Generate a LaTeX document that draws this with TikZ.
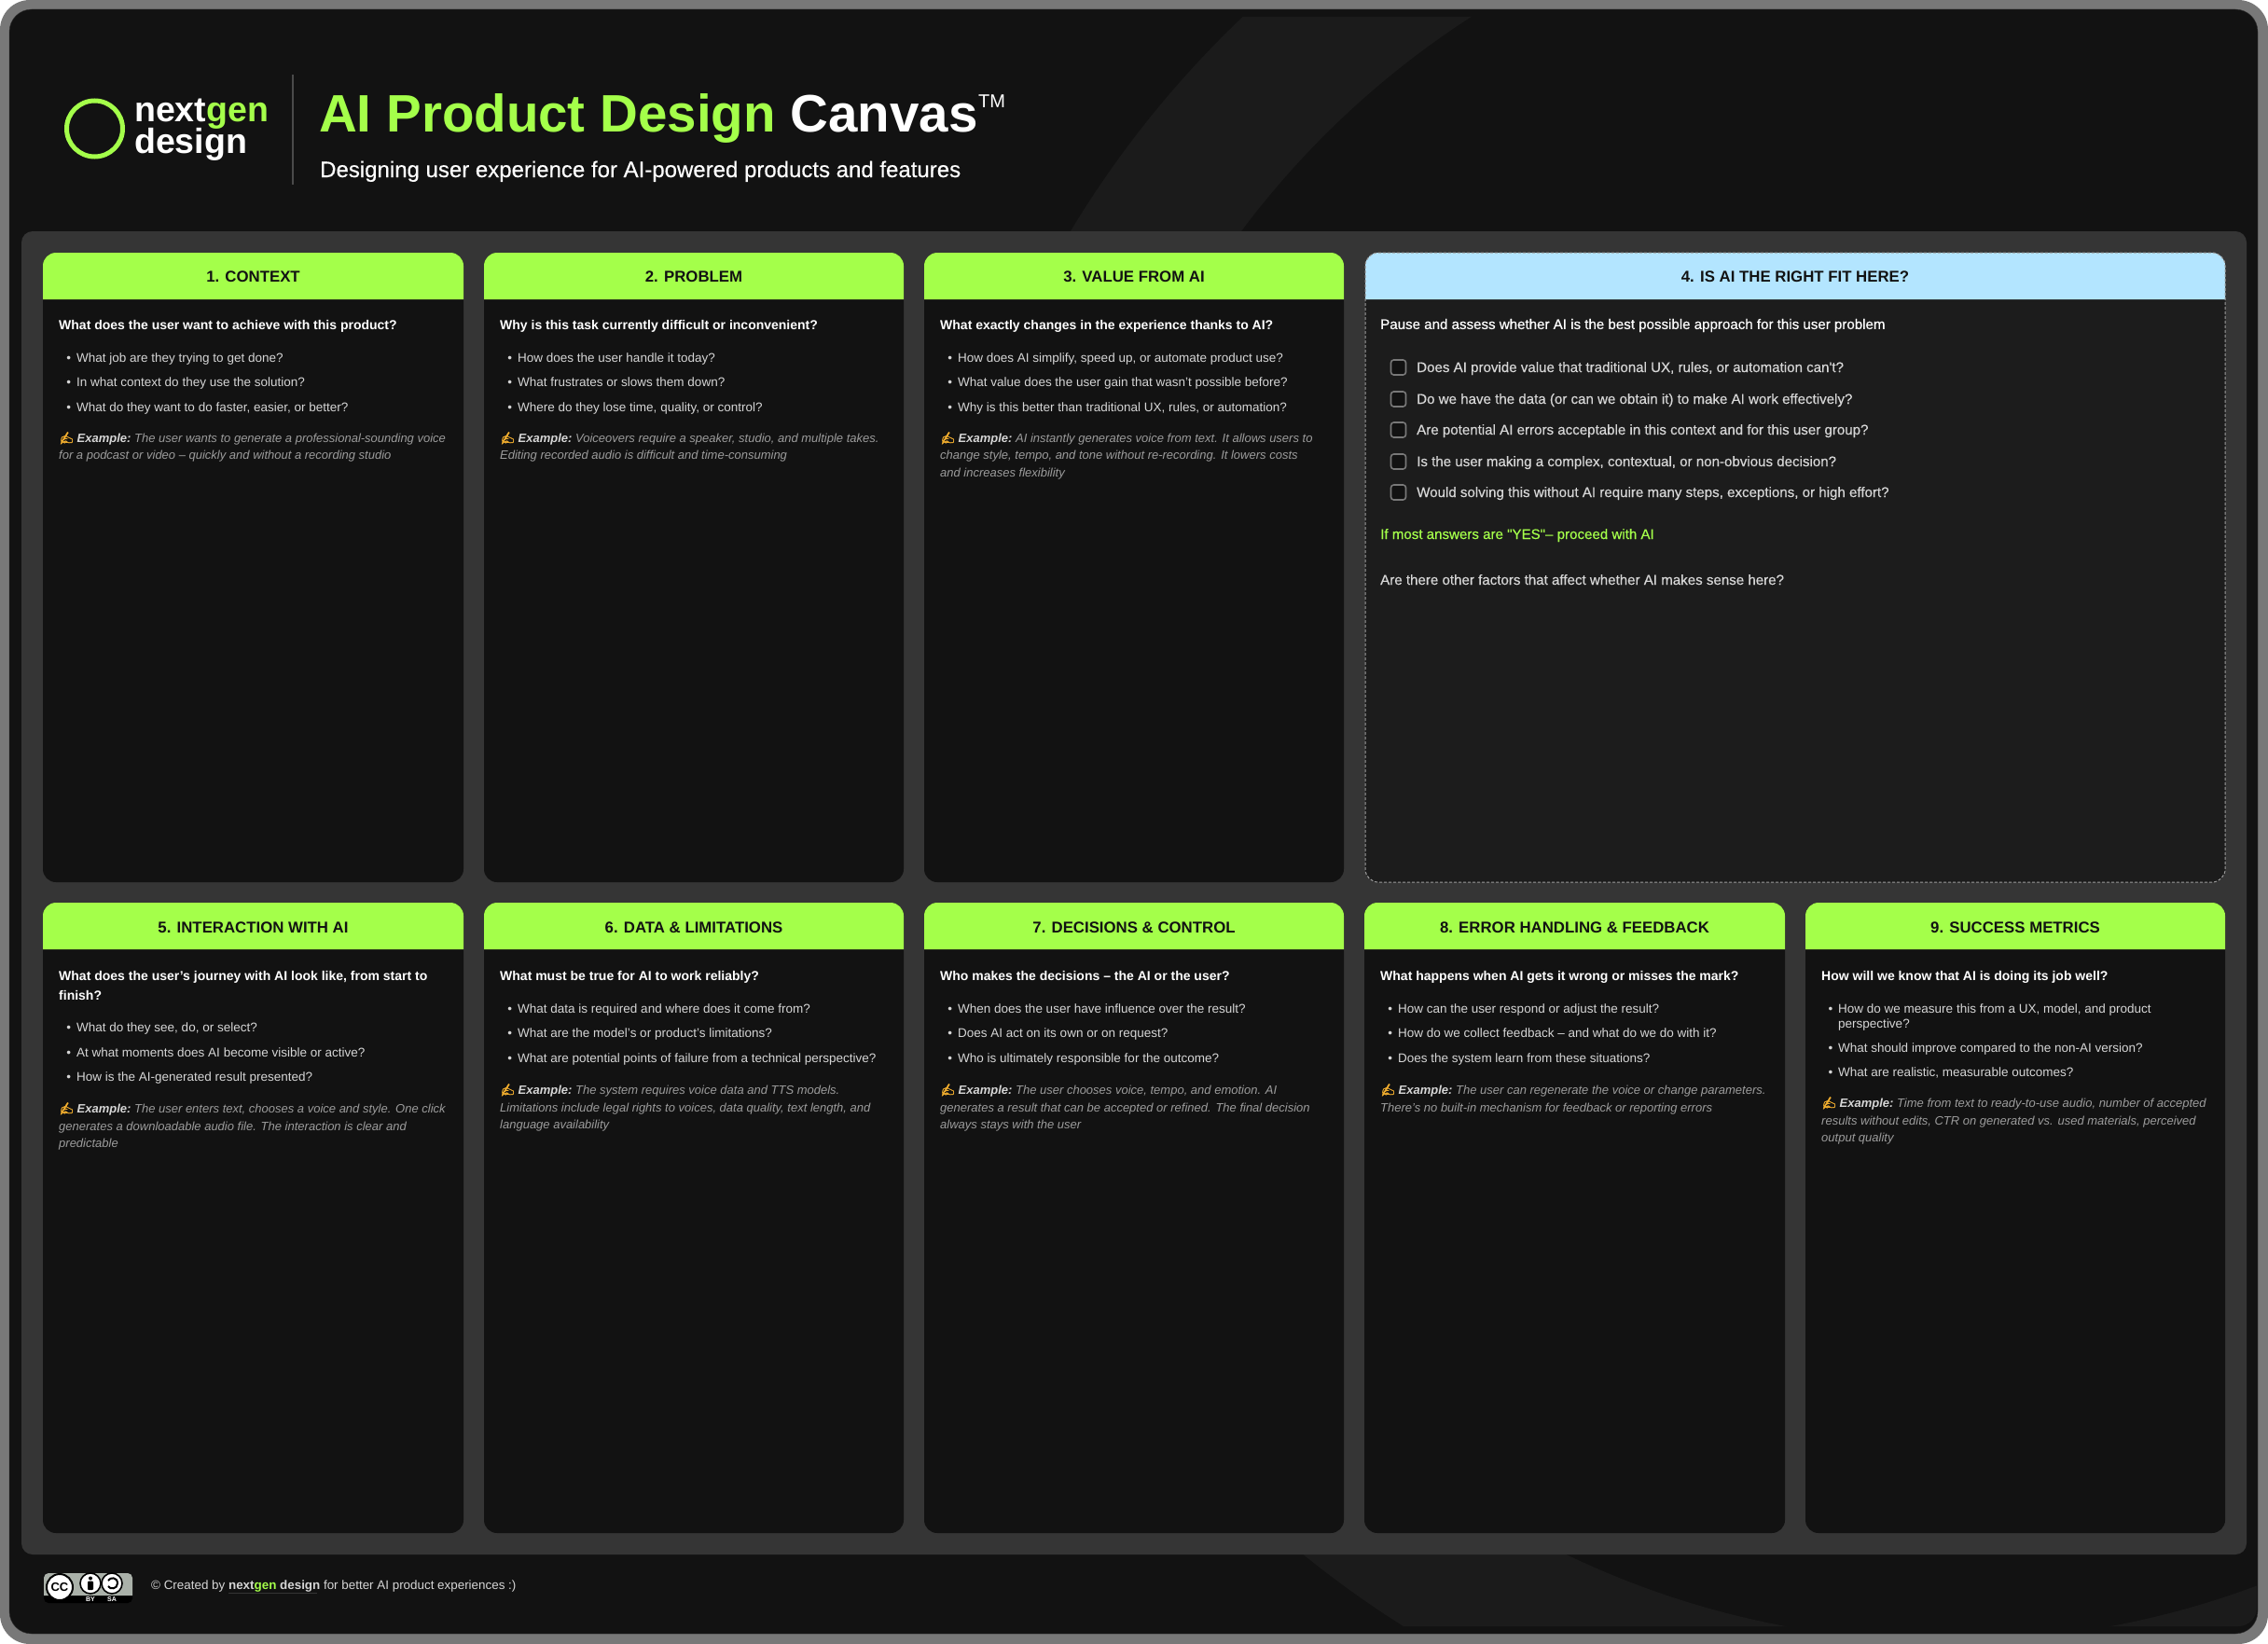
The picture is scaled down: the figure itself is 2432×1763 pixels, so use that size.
\documentclass[tikz,border=0pt]{standalone}
\usepackage{fontspec}
\setmainfont{Liberation Sans}
\newfontfamily\emojifont[FakeBold=1.5]{Noto Emoji}
\newfontfamily\medfont[FakeBold=0.35]{Liberation Sans}
\definecolor{framegray}{HTML}{787878}
\definecolor{ink}{HTML}{121212}
\definecolor{ringdark}{HTML}{1B1B1B}
\definecolor{panelgray}{HTML}{353535}
\definecolor{fitbody}{HTML}{1C1C1C}
\definecolor{limegreen}{HTML}{A4FF4A}
\definecolor{skyblue}{HTML}{B3E5FF}
\definecolor{bulletgray}{HTML}{D6D6D6}
\definecolor{examplegray}{HTML}{9C9C9C}
\definecolor{handorange}{HTML}{F2AE2E}
\definecolor{badgegray}{HTML}{AAB1A9}
\definecolor{dividergray}{HTML}{4A4A4A}
\tikzset{
	head/.style={anchor=center, inner sep=0pt, yshift=-1.5pt, text=ink, font=\fontsize{16.8}{20}\selectfont\bfseries},
	question/.style={anchor=north west, inner sep=0pt, yshift=-2pt, align=left, text=white, font=\fontsize{14}{21}\selectfont\bfseries},
	bul/.style={anchor=north west, inner sep=0pt, yshift=-2pt, align=left, text=bulletgray, font=\fontsize{13.5}{15.4}\selectfont},
	example/.style={anchor=north west, inner sep=0pt, yshift=-1pt, align=left, text=examplegray, font=\fontsize{13}{18.7}\selectfont\itshape},
	check/.style={anchor=base west, inner sep=0pt, text=bulletgray, font=\medfont\fontsize{15.1}{18}\selectfont},
	tickbox/.style={draw=framegray, line width=1.6pt, fill=ink, rounded corners=3pt},
	iconring/.style={draw=black, line width=1.6pt, fill=white},
	badgetag/.style={inner sep=0pt, text=white, font=\fontsize{7}{8}\selectfont\bfseries}
}
\begin{document}
\begin{tikzpicture}[x=1pt,y=-1pt]
	\useasboundingbox (0,0) rectangle (2432,1763);
	\def\bdot{\llap{\textbullet\hspace{6pt}}\strut}
	\def\exmark{{\upshape\color{handorange}\emojifont ✍}\hspace{3pt}\textcolor{bulletgray}{\textbf{Example:}}}
	\def\rowa{271}
	\def\rowb{968}
	% frame and background ring
	\fill[white] (0,0) rectangle (2432,1763);
	\fill[framegray, rounded corners=32pt] (0,0) rectangle (2432,1763);
	\fill[ink, draw=panelgray, rounded corners=24pt] (10,10) rectangle (2421,1752);
	\begin{scope}
		\clip[rounded corners=20pt] (18,18) rectangle (2420,1744);
		\fill[ringdark, even odd rule] (2089,814) circle (1098pt) (2089,814) circle (946pt);
	\end{scope}
	% title
	\draw[limegreen, line width=5pt] (101.5,138) circle (30pt);
	\node[anchor=base west, inner sep=0pt, text=white, font=\fontsize{37.5}{38}\selectfont\bfseries] (lognext) at (144,131) {next\textcolor{limegreen}{gen}};
	\node[anchor=base west, inner sep=0pt, text=white, font=\fontsize{37.5}{38}\selectfont\bfseries] (logdesign) at (144,165) {design};
	\coordinate (divtop) at (314,80);
	\coordinate (divbot) at (314,198);
	\draw[draw=dividergray, line width=1.5pt] (divtop) -- (divbot);
	\node[anchor=base west, inner sep=0pt, text=limegreen, font=\fontsize{56.5}{60}\selectfont\bfseries] (title) at (342,142) {AI Product Design \textcolor{white}{Canvas}};
	\node[anchor=base west, inner sep=0pt, text=white, font=\fontsize{20}{22}\selectfont] (tm) at (1049,116) {TM};
	\node[anchor=base west, inner sep=0pt, text=white, font=\medfont\fontsize{24}{26}\selectfont] (subtitle) at (343,190) {Designing user experience for AI-powered products and features};
	% panel and cards
	\fill[panelgray, rounded corners=12pt] (23,248) rectangle (2409,1667);
	\foreach \xa/\xb in {46/497,519/969,991/1441}{
		\fill[ink, rounded corners=14pt] (\xa,\rowa) rectangle (\xb,946);
		\fill[limegreen] (\xa,321) {[rounded corners=14pt] -- (\xa,\rowa) -- (\xb,\rowa)} -- (\xb,321) -- cycle;
	}
	\foreach \xa/\xb in {46/497,519/969,991/1441,1463/1914,1936/2386}{
		\fill[ink, rounded corners=14pt] (\xa,\rowb) rectangle (\xb,1644);
		\fill[limegreen] (\xa,1018) {[rounded corners=14pt] -- (\xa,\rowb) -- (\xb,\rowb)} -- (\xb,1018) -- cycle;
	}
	\fill[fitbody, rounded corners=14pt] (1464,\rowa) rectangle (2386,946);
	\fill[skyblue] (1464,321) {[rounded corners=14pt] -- (1464,\rowa) -- (2386,\rowa)} -- (2386,321) -- cycle;
	\draw[examplegray, dash pattern=on 3pt off 2pt, line width=1pt, rounded corners=14pt] (1464,\rowa) rectangle (2386,946);
	% card 1
	\node[head] (h1) at (271.5,295) {1. CONTEXT};
	\node[question] (q1) at (63,337) {\strut What does the user want to achieve with this product?};
	\node[bul] (b11) at (82,376) {\bdot What job are they trying to get done?};
	\node[bul] (b12) at (82,402) {\bdot In what context do they use the solution?};
	\node[bul] (b13) at (82,429) {\bdot What do they want to do faster, easier, or better?};
	\node[example] (e1) at (63,460) {\strut\exmark\ The user wants to generate a professional-sounding voice\\\strut for a podcast or video – quickly and without a recording studio};
	% card 2
	\node[head] (h2) at (744,295) {2. PROBLEM};
	\node[question] (q2) at (536,337) {\strut Why is this task currently difficult or inconvenient?};
	\node[bul] (b21) at (555,376) {\bdot How does the user handle it today?};
	\node[bul] (b22) at (555,402) {\bdot What frustrates or slows them down?};
	\node[bul] (b23) at (555,429) {\bdot Where do they lose time, quality, or control?};
	\node[example] (e2) at (536,460) {\strut\exmark\ Voiceovers require a speaker, studio, and multiple takes.\\\strut Editing recorded audio is difficult and time-consuming};
	% card 3
	\node[head] (h3) at (1216,295) {3. VALUE FROM AI};
	\node[question] (q3) at (1008,337) {\strut What exactly changes in the experience thanks to AI?};
	\node[bul] (b31) at (1027,376) {\bdot How does AI simplify, speed up, or automate product use?};
	\node[bul] (b32) at (1027,402) {\bdot What value does the user gain that wasn't possible before?};
	\node[bul] (b33) at (1027,429) {\bdot Why is this better than traditional UX, rules, or automation?};
	\node[example] (e3) at (1008,460) {\strut\exmark\ AI instantly generates voice from text. It allows users to\\\strut change style, tempo, and tone without re-recording. It lowers costs\\\strut and increases flexibility};
	% card 4
	\node[head] (h4) at (1925,295) {4. IS AI THE RIGHT FIT HERE?};
	\node[question, font=\medfont\fontsize{15.1}{21}\selectfont] (q4) at (1480,336) {\strut Pause and assess whether AI is the best possible approach for this user problem};
	\foreach \yc/\boxname in {394/t1,428/t2,461/t3,495/t4,528/t5}{
		\node[tickbox, inner sep=0pt, minimum size=16pt] (\boxname) at (1499.5,\yc) {};
	}
	\node[check] (c1) at (1519,399) {Does AI provide value that traditional UX, rules, or automation can't?};
	\node[check] (c2) at (1519,433) {Do we have the data (or can we obtain it) to make AI work effectively?};
	\node[check] (c3) at (1519,466) {Are potential AI errors acceptable in this context and for this user group?};
	\node[check] (c4) at (1519,500) {Is the user making a complex, contextual, or non-obvious decision?};
	\node[check] (c5) at (1519,533) {Would solving this without AI require many steps, exceptions, or high effort?};
	\node[check, text=limegreen] (c6) at (1480,578) {If most answers are "YES"– proceed with AI};
	\node[check] (c7) at (1480,627) {Are there other factors that affect whether AI makes sense here?};
	% card 5
	\node[head] (h5) at (271.5,993) {5. INTERACTION WITH AI};
	\node[question] (q5) at (63,1035) {\strut What does the user's journey with AI look like, from start to\\\strut finish?};
	\node[bul] (b51) at (82,1094) {\bdot What do they see, do, or select?};
	\node[bul] (b52) at (82,1121) {\bdot At what moments does AI become visible or active?};
	\node[bul] (b53) at (82,1147) {\bdot How is the AI-generated result presented?};
	\node[example] (e5) at (63,1179) {\strut\exmark\ The user enters text, chooses a voice and style. One click\\\strut generates a downloadable audio file. The interaction is clear and\\\strut predictable};
	% card 6
	\node[head] (h6) at (744,993) {6. DATA \& LIMITATIONS};
	\node[question] (q6) at (536,1035) {\strut What must be true for AI to work reliably?};
	\node[bul] (b61) at (555,1074) {\bdot What data is required and where does it come from?};
	\node[bul] (b62) at (555,1100) {\bdot What are the model's or product's limitations?};
	\node[bul] (b63) at (555,1127) {\bdot What are potential points of failure from a technical perspective?};
	\node[example] (e6) at (536,1159) {\strut\exmark\ The system requires voice data and TTS models.\\\strut Limitations include legal rights to voices, data quality, text length, and\\\strut language availability};
	% card 7
	\node[head] (h7) at (1216,993) {7. DECISIONS \& CONTROL};
	\node[question] (q7) at (1008,1035) {\strut Who makes the decisions – the AI or the user?};
	\node[bul] (b71) at (1027,1074) {\bdot When does the user have influence over the result?};
	\node[bul] (b72) at (1027,1100) {\bdot Does AI act on its own or on request?};
	\node[bul] (b73) at (1027,1127) {\bdot Who is ultimately responsible for the outcome?};
	\node[example] (e7) at (1008,1159) {\strut\exmark\ The user chooses voice, tempo, and emotion. AI\\\strut generates a result that can be accepted or refined. The final decision\\\strut always stays with the user};
	% card 8
	\node[head] (h8) at (1688.5,993) {8. ERROR HANDLING \& FEEDBACK};
	\node[question] (q8) at (1480,1035) {\strut What happens when AI gets it wrong or misses the mark?};
	\node[bul] (b81) at (1499,1074) {\bdot How can the user respond or adjust the result?};
	\node[bul] (b82) at (1499,1100) {\bdot How do we collect feedback – and what do we do with it?};
	\node[bul] (b83) at (1499,1127) {\bdot Does the system learn from these situations?};
	\node[example] (e8) at (1480,1159) {\strut\exmark\ The user can regenerate the voice or change parameters.\\\strut There's no built-in mechanism for feedback or reporting errors};
	% card 9
	\node[head] (h9) at (2161,993) {9. SUCCESS METRICS};
	\node[question] (q9) at (1953,1035) {\strut How will we know that AI is doing its job well?};
	\node[bul] (b91) at (1971,1074) {\bdot How do we measure this from a UX, model, and product\\\strut perspective?};
	\node[bul] (b92) at (1971,1116) {\bdot What should improve compared to the non-AI version?};
	\node[bul] (b93) at (1971,1142) {\bdot What are realistic, measurable outcomes?};
	\node[example] (e9) at (1953,1173) {\strut\exmark\ Time from text to ready-to-use audio, number of accepted\\\strut results without edits, CTR on generated vs. used materials, perceived\\\strut output quality};
	% footer badge
	\fill[black, rounded corners=5pt] (47,1687) rectangle (142,1719);
	\fill[badgegray] (47,1711) {[rounded corners=5pt] -- (47,1687) -- (142,1687)} -- (142,1711) -- cycle;
	\draw[black, line width=2pt, fill=white] (64,1702) circle (14pt);
	\node[inner sep=0pt, text=black, font=\fontsize{13}{14}\selectfont\bfseries] (cc) at (64,1702) {CC};
	\draw[iconring] (97,1698) circle (11pt);
	\fill[black] (97,1692.5) circle (2pt);
	\fill[black, rounded corners=1pt] (94,1695.5) rectangle (100,1705);
	\draw[iconring] (120,1698) circle (11pt);
	\draw[black, line width=2pt] (116,1695) .. controls (118,1691) and (126,1691) .. (126,1698) .. controls (126,1704) and (118,1705) .. (116,1701);
	\node[badgetag] (tagby) at (97,1715) {BY};
	\node[badgetag] (tagsa) at (120,1715) {SA};
	\node[anchor=base west, inner sep=0pt, text=bulletgray, font=\fontsize{13.4}{16}\selectfont] (credit) at (162,1704) {© Created by \textbf{next\textcolor{limegreen}{gen} design} for better AI product experiences :)};
	\coordinate (linka) at (245,1708);
	\coordinate (linkb) at (340,1708);
	\draw[panelgray, line width=1pt] (linka) -- (linkb);
\end{tikzpicture}
\end{document}
